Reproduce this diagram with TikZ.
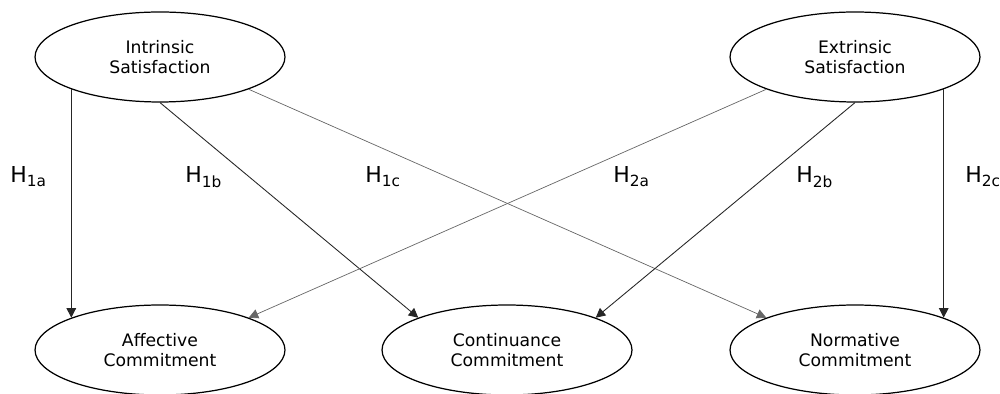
\documentclass[tikz,border=0pt]{standalone}
\usepackage{fontspec}
\setmainfont{DejaVu Sans}
\usetikzlibrary{arrows.meta,positioning,shapes.geometric}
\tikzset{
  construct/.style={ellipse,draw=black,line width=0.7pt,minimum width=5cm,minimum height=1.8cm,align=center,inner sep=0pt,font=\fontsize{9.8}{11.2}\selectfont},
  patharrow/.style={-{Triangle[length=1.9mm,width=1.9mm]},line width=0.5pt,draw=black!85},
  softarrow/.style={-{Triangle[length=1.9mm,width=1.9mm]},line width=0.4pt,draw=black!60},
  hyplabel/.style={anchor=west,inner sep=0pt,font=\fontsize{12.5}{14}\selectfont}
}
\begin{document}
\begin{tikzpicture}[x=0.02cm,y=-0.02cm]
\useasboundingbox (0,0) rectangle (1000,394);
% constructs
\node[construct] (intr) at (160,57) {Intrinsic\\Satisfaction};
\node[construct] (extr) at (855,57) {Extrinsic\\Satisfaction};
\node[construct] (aff) at (160,350) {Affective\\Commitment};
\node[construct] (cont) at (507,350) {Continuance\\Commitment};
\node[construct] (norm) at (855,350) {Normative\\Commitment};
% hypotheses
\draw[patharrow] (intr.200)--(aff.160);
\draw[patharrow] (intr.south)--(cont.160);
\draw[softarrow] (intr.340)--(norm.160);
\draw[softarrow] (extr.200)--(aff.20);
\draw[patharrow] (extr.south)--(cont.20);
\draw[patharrow] (extr.340)--(norm.20);
% labels
\node[hyplabel] (h1a) at (10,177) {H\textsubscript{1a}};
\node[hyplabel] (h1b) at (185,177) {H\textsubscript{1b}};
\node[hyplabel] (h1c) at (365,177) {H\textsubscript{1c}};
\node[hyplabel] (h2a) at (613,177) {H\textsubscript{2a}};
\node[hyplabel] (h2b) at (796,177) {H\textsubscript{2b}};
\node[hyplabel] (h2c) at (965,177) {H\textsubscript{2c}};
\end{tikzpicture}
\end{document}
